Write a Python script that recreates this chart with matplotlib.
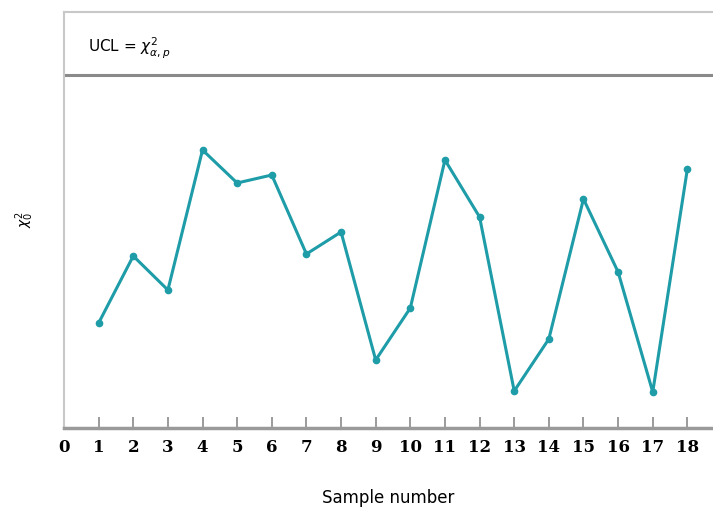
import matplotlib.pyplot as plt

samples = list(range(1, 19))
stat_values = [10.5, 17.2, 13.8, 27.8, 24.5, 25.3, 17.4, 19.6, 6.8,
               12.0, 26.8, 21.1, 3.7, 8.9, 22.9, 15.6, 3.6, 25.9]
ucl = 35.3
tick_labels = [str(i) for i in range(0, 19)]

fig = plt.figure(figsize=(7.13, 5.12), dpi=100)
ax = fig.add_axes([64 / 713, 1 - 428 / 512, 1 - 64 / 713, (428 - 12) / 512])

ax.plot(samples, stat_values, color="#1e9ca8", linewidth=2.2,
        marker="o", markersize=4.5)
ax.axhline(ucl, color="#8a8a8a", linewidth=2.2)
ax.text(0.7, ucl + 1.4, r"UCL = $\chi^2_{\alpha,p}$", fontsize=11,
        family="DejaVu Sans", va="bottom", ha="left")

ax.set_xlim(0, 18.74)
ax.set_ylim(0, 41.6)
ax.set_xticks(range(0, 19))
ax.set_xticklabels(tick_labels, family="DejaVu Serif", fontweight="bold",
                   fontsize=12)
ax.set_yticks([])
ax.tick_params(axis="x", direction="in", length=8, width=1.2,
               color="#8a8a8a", pad=8)

for side in ("left", "top"):
    ax.spines[side].set_color("#c8c8c8")
    ax.spines[side].set_linewidth(1.5)
ax.spines["right"].set_visible(False)
ax.spines["bottom"].set_color("#9a9a9a")
ax.spines["bottom"].set_linewidth(2.5)

ax.set_xlabel("Sample number", fontsize=12, labelpad=24)
ax.set_ylabel(r"$\chi^2_0$", fontsize=10, labelpad=20)

fig.savefig("out.png", dpi=100)
